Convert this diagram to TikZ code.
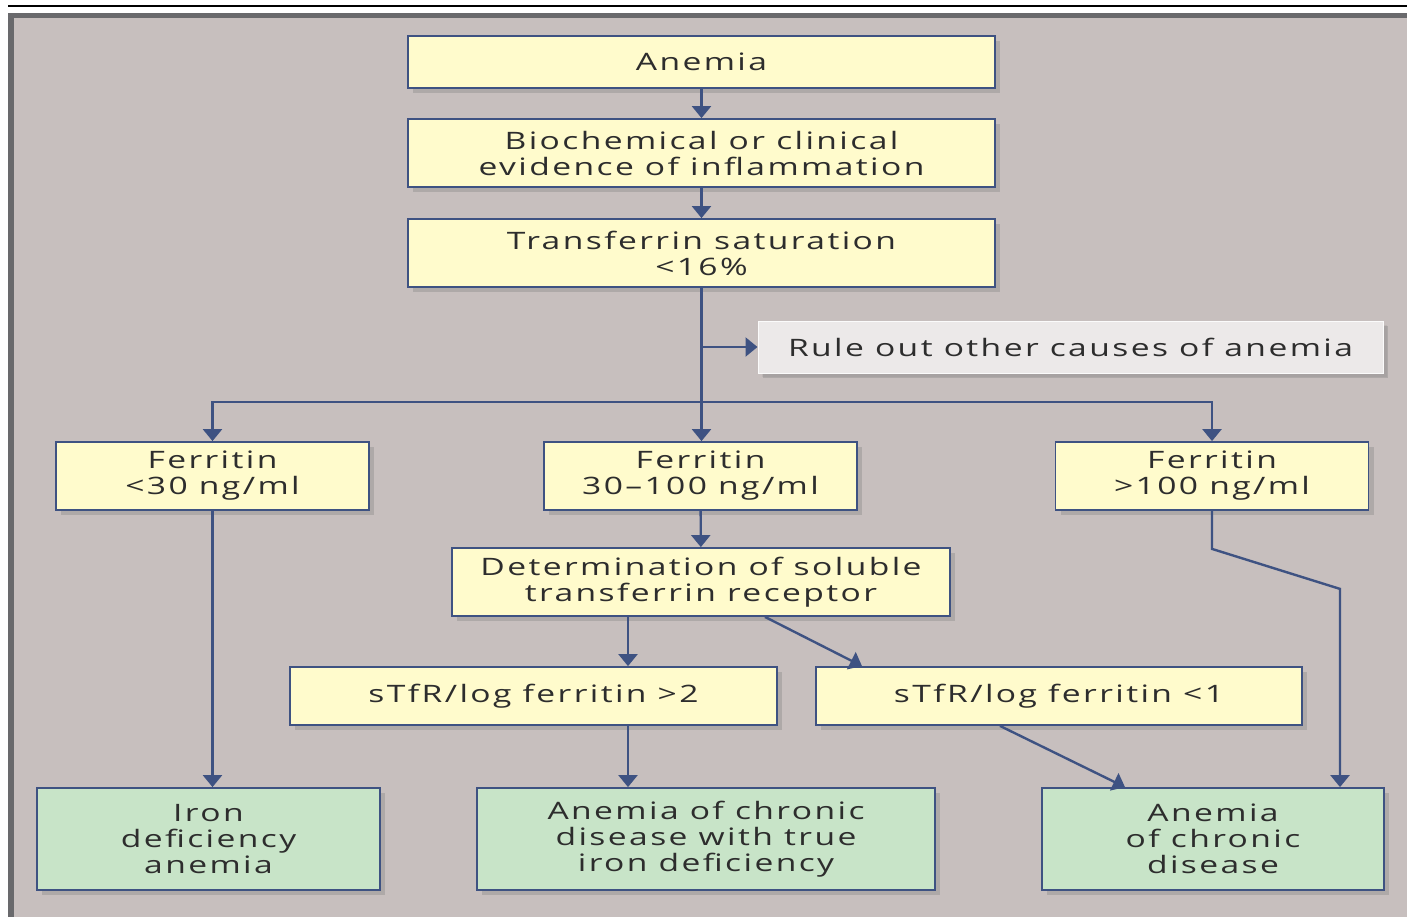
\documentclass[tikz,border=0pt]{standalone}
\usepackage{fontspec}
\newfontfamily\boxfont[FakeStretch=1.4, LetterSpace=10]{Open Sans}
\usetikzlibrary{arrows.meta,shadows}
\definecolor{panelgray}{RGB}{199,191,190}
\definecolor{framegray}{RGB}{105,105,108}
\definecolor{boxyellow}{RGB}{255,251,204}
\definecolor{boxgreen}{RGB}{200,228,200}
\definecolor{boxlight}{RGB}{236,233,233}
\definecolor{linkblue}{RGB}{62,82,130}
\definecolor{textgray}{RGB}{45,45,45}
\tikzset{
  box/.style={draw=linkblue, line width=0.9pt, fill=boxyellow, align=center,
    inner sep=0pt, text=textgray,
    font=\boxfont\fontsize{12}{13}\selectfont,
    drop shadow={opacity=0.35, shadow xshift=2.5pt, shadow yshift=-2.5pt}},
  result/.style={box, fill=boxgreen},
  note/.style={box, draw=white!80!boxlight, line width=0.5pt, fill=boxlight, drop shadow={opacity=0.15}},
  flow/.style={-{Triangle[width=9.5pt,length=6pt]}, draw=linkblue, line width=1.2pt}
}
\begin{document}
\begin{tikzpicture}[x=0.5pt, y=-0.5pt]
\useasboundingbox (0,0) rectangle (1407,917);
% page rule and panel
\draw[line width=1pt] (8,6) -- (1407,6);
\fill[framegray] (8,13) rectangle (1407,917);
\fill[panelgray] (14,18) rectangle (1407,917);
% nodes
\node[box, minimum width=293.5pt, minimum height=26pt] (anemia) at (701.5,62) {Anemia};
\node[box, minimum width=293.5pt, minimum height=34pt] (infl) at (701.5,153) {Biochemical or clinical\\evidence of inflammation};
\node[box, minimum width=293.5pt, minimum height=34pt] (tsat) at (701.5,253) {Transferrin saturation\\<16\%};
\node[note, minimum width=312.5pt, minimum height=26pt] (rule) at (1070.5,347) {Rule out other causes of anemia};
\node[box, minimum width=156.5pt, minimum height=34pt] (ferlow) at (212.5,476) {Ferritin\\<30 ng/ml};
\node[box, minimum width=156.5pt, minimum height=34pt] (fermid) at (700.5,476) {Ferritin\\30–100 ng/ml};
\node[box, minimum width=156.5pt, minimum height=34pt] (ferhigh) at (1212,476) {Ferritin\\>100 ng/ml};
\node[box, minimum width=249pt, minimum height=34pt] (stfr) at (701,582) {Determination of soluble\\transferrin receptor};
\node[box, minimum width=243.5pt, minimum height=29pt] (idxhigh) at (533.5,696) {sTfR/log ferritin >2};
\node[box, minimum width=243pt, minimum height=29pt] (idxlow) at (1059,696) {sTfR/log ferritin <1};
\node[result, minimum width=171.5pt, minimum height=51pt] (ida) at (208.5,839) {Iron\\deficiency\\anemia};
\node[result, minimum width=229pt, minimum height=51pt] (acdid) at (706,839) {Anemia of chronic\\disease with true\\iron deficiency};
\node[result, minimum width=171pt, minimum height=51pt] (acd) at (1213,839) {Anemia\\of chronic\\disease};
% connectors
\coordinate (split) at (702,402);
\coordinate (lane) at (628,0);
\draw[flow] (anemia) -- (infl);
\draw[flow] (infl) -- (tsat);
\draw[flow] (tsat.south) -- (tsat.south |- fermid.north);
\draw[flow] (tsat.south |- rule.west) -- (rule.west);
\draw[flow] (split) -| (ferlow.north);
\draw[flow] (split) -| (ferhigh.north);
\draw[flow] (ferlow.south) -- (ferlow.south |- ida.north);
\draw[flow] (fermid) -- (stfr);
\draw[flow] (stfr.south -| lane) -- (idxhigh.north -| lane);
\draw[flow] ([xshift=32pt]stfr.south) -- ([xshift=-98.5pt]idxlow.north);
\draw[flow] (idxhigh.south -| lane) -- (acdid.north -| lane);
\draw[flow] ([xshift=-29.5pt]idxlow.south) -- ([xshift=-44pt]acd.north);
\draw[flow] (ferhigh.south) -- ++(0,38) -- ++(128,40) -- ([xshift=63.5pt]acd.north);
\end{tikzpicture}
\end{document}
